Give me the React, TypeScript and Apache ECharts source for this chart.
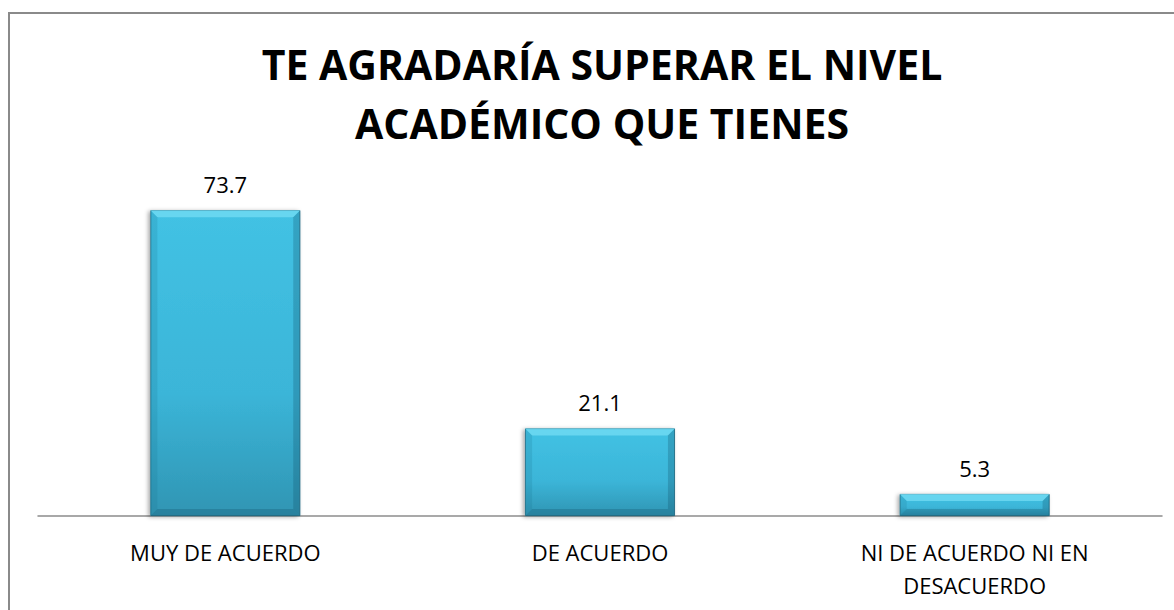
import React, { useEffect, useRef } from "react";
import * as echarts from "echarts";

const TITLE_LINES = ["TE AGRADARÍA SUPERAR EL NIVEL", "ACADÉMICO QUE TIENES"];
const categories = ["MUY DE ACUERDO", "DE ACUERDO", "NI DE ACUERDO NI EN\nDESACUERDO"];
const values = [73.7, 21.1, 5.3];
const Y_MAX = 80;

export default function App() {
  const ref = useRef<HTMLDivElement>(null);
  useEffect(() => {
    if (!ref.current) return;
    const chart = echarts.init(ref.current, null, { renderer: "svg" });
    const BEVEL = 7;
    chart.setOption({
      animation: false,
      backgroundColor: "#ffffff",
      title: {
        text: TITLE_LINES.join("\n"),
        left: 597,
        textAlign: "center",
        top: 29,
        textStyle: {
          fontFamily: "Open Sans",
          fontWeight: "bold",
          fontSize: 41,
          lineHeight: 59,
          color: "#000000",
        },
      },
      graphic: [
        {
          type: "rect",
          shape: { x: 9, y: 13, width: 1200, height: 700 },
          style: { fill: "none", stroke: "#8a8a8a", lineWidth: 2 },
          silent: true,
        },
      ],
      grid: { left: 38, right: 12, top: 184, bottom: 94, containLabel: false },
      xAxis: {
        type: "category",
        data: categories,
        axisLine: { lineStyle: { color: "#8c8c8c", width: 1.5 } },
        axisTick: { show: false },
        axisLabel: {
          fontFamily: "Open Sans",
          fontSize: 22,
          color: "#000000",
          lineHeight: 33,
          margin: 19,
          interval: 0,
        },
      },
      yAxis: {
        type: "value",
        min: 0,
        max: Y_MAX,
        show: false,
        splitLine: { show: false },
      },
      series: [
        {
          type: "bar",
          data: values,
          barWidth: "40%",
          itemStyle: {
            color: {
              type: "linear",
              x: 0,
              y: 0,
              x2: 0,
              y2: 1,
              colorStops: [
                { offset: 0, color: "#42c2e4" },
                { offset: 0.6, color: "#3bb5d8" },
                { offset: 1, color: "#3095b3" },
              ],
            },
            borderColor: "#1f6f88",
            borderWidth: 0.8,
            shadowColor: "rgba(0,0,0,0.35)",
            shadowBlur: 4,
            shadowOffsetX: -2,
            shadowOffsetY: 1,
          },
          label: {
            show: true,
            position: "top",
            distance: 15,
            fontFamily: "Open Sans",
            fontSize: 22,
            color: "#000000",
            formatter: (p: any) => p.value.toFixed(1),
          },
          z: 2,
        },
        {
          type: "custom",
          data: values.map((v, i) => [i, v]),
          z: 3,
          silent: true,
          renderItem: (params: any, api: any) => {
            const i = api.value(0);
            const v = api.value(1);
            const top = api.coord([i, v]);
            const base = api.coord([i, 0]);
            const w = api.size([1, 0])[0] * 0.4;
            const x0 = top[0] - w / 2;
            const x1 = top[0] + w / 2;
            const y0 = top[1];
            const y1 = base[1];
            const b = Math.min(BEVEL, (y1 - y0) / 2);
            return {
              type: "group",
              children: [
                {
                  type: "polygon",
                  shape: { points: [[x0, y0], [x1, y0], [x1 - b, y0 + b], [x0 + b, y0 + b]] },
                  style: { fill: "rgba(120,222,245,0.7)" },
                },
                {
                  type: "polygon",
                  shape: { points: [[x0, y0], [x0 + b, y0 + b], [x0 + b, y1 - b], [x0, y1]] },
                  style: { fill: "rgba(20,110,140,0.18)" },
                },
                {
                  type: "polygon",
                  shape: { points: [[x1, y0], [x1 - b, y0 + b], [x1 - b, y1 - b], [x1, y1]] },
                  style: { fill: "rgba(10,70,95,0.25)" },
                },
                {
                  type: "polygon",
                  shape: { points: [[x0, y1], [x0 + b, y1 - b], [x1 - b, y1 - b], [x1, y1]] },
                  style: { fill: "rgba(10,70,95,0.25)" },
                },
              ],
            };
          },
        },
      ],
    });
    return () => chart.dispose();
  }, []);
  return (
    <div
      ref={ref}
      style={{ position: "fixed", left: 0, top: 0, width: 1174, height: 610 }}
    />
  );
}
